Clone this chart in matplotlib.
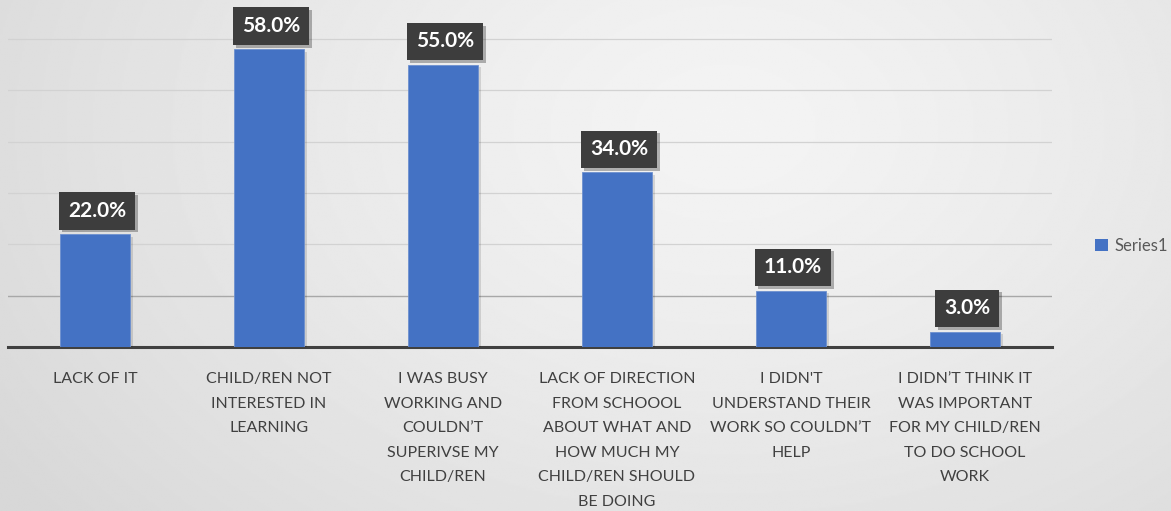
import numpy as np
import matplotlib
matplotlib.use("Agg")
import matplotlib.pyplot as plt
import matplotlib.patheffects as pe
from matplotlib.patches import Patch

categories = [
    "LACK OF IT",
    "CHILD/REN NOT\nINTERESTED IN\nLEARNING",
    "I WAS BUSY\nWORKING AND\nCOULDN\u2019T\nSUPERIVSE MY\nCHILD/REN",
    "LACK OF DIRECTION\nFROM SCHOOOL\nABOUT WHAT AND\nHOW MUCH MY\nCHILD/REN SHOULD\nBE DOING",
    "I DIDN'T\nUNDERSTAND THEIR\nWORK SO COULDN\u2019T\nHELP",
    "I DIDN\u2019T THINK IT\nWAS IMPORTANT\nFOR MY CHILD/REN\nTO DO SCHOOL\nWORK",
]
values = [22.0, 58.0, 55.0, 34.0, 11.0, 3.0]
series_name = "Series1"
gridlines = [10, 20, 30, 40, 50, 60]

plt.rcParams['font.family'] = ['Lato', 'DejaVu Sans']

W, H, DPI = 1171, 511, 100
fig = plt.figure(figsize=(W / DPI, H / DPI), dpi=DPI)

# background radial gradient
bg = fig.add_axes([0, 0, 1, 1], zorder=-10)
yy, xx = np.mgrid[0:1:300j, 0:1:600j]
r = np.sqrt(((xx - 0.62) * 1.6) ** 2 + ((yy - 0.25) * 1.0) ** 2)
r = np.clip(r / 1.2, 0, 1)
c0, c1 = 0.955, 0.845
img = c0 + (c1 - c0) * r ** 1.3
bg.imshow(img, cmap='gray', vmin=0, vmax=1, extent=[0, 1, 1, 0], aspect='auto', interpolation='bilinear')
bg.set_axis_off()

left = 8 / W
right = 1052 / W
bottom = (H - 347) / H
ax = fig.add_axes([left, bottom, right - left, 1 - bottom])
ax.patch.set_alpha(0)

x = np.arange(len(categories))
ax.set_xlim(-0.5, len(categories) - 0.5)
ax.set_ylim(0, 67.6)

for g in gridlines:
    ax.axhline(g, color='#a8a8a8' if g == 10 else '#d2d2d2', lw=1.0 if g == 10 else 0.9, zorder=1)

bars = ax.bar(x, values, width=0.40, color='#4472C4', edgecolor='#6d90cf', linewidth=0.6, zorder=3)
for b in bars:
    b.set_path_effects([pe.SimplePatchShadow(offset=(2, -2), shadow_rgbFace='black', alpha=0.12), pe.Normal()])

for xi, v in zip(x, values):
    t = ax.annotate(f"{v:.1f}%", xy=(xi, v), xytext=(1.5, 9.5), textcoords='offset points',
                    ha='center', va='bottom', fontsize=15, fontweight='bold', color='white', zorder=5,
                    bbox=dict(boxstyle='square,pad=0.42', facecolor='#3d3d3d', edgecolor='none',
                              linewidth=0))
    t.get_bbox_patch().set_path_effects([pe.SimplePatchShadow(offset=(2, -2), alpha=0.3), pe.Normal()])

for s in ['top', 'right', 'left']:
    ax.spines[s].set_visible(False)
ax.spines['bottom'].set_color('#404040')
ax.spines['bottom'].set_linewidth(2.2)
ax.set_yticks([])
ax.set_xticks(x)
ax.set_xticklabels(categories, fontsize=11.5, color='#404040', linespacing=1.96)
ax.tick_params(axis='x', length=0, pad=18)

leg = fig.legend(handles=[Patch(facecolor='#4472C4', label=series_name)],
                 loc='center left', bbox_to_anchor=(1080 / W, 1 - 246 / H), frameon=False,
                 fontsize=12, handlelength=0.75, handleheight=0.75, handletextpad=0.4, labelcolor='#595959')

fig.savefig('out.png', dpi=DPI)
